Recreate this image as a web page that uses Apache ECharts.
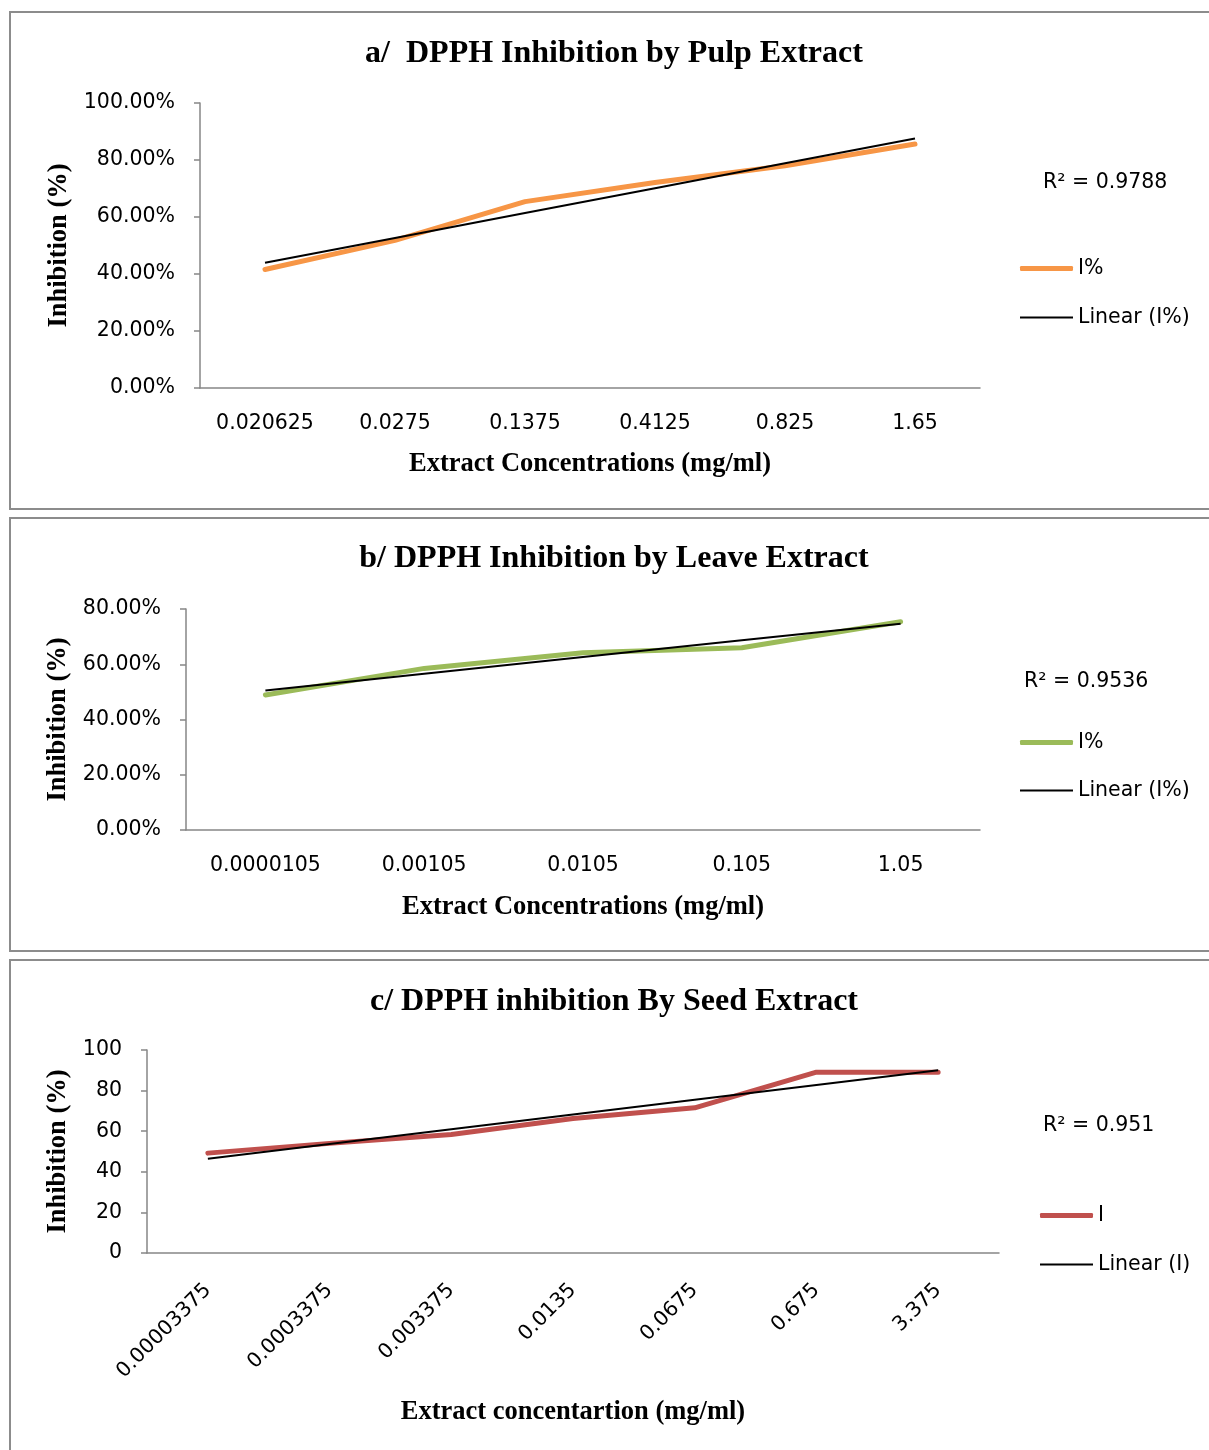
<!DOCTYPE html>
<html>
<head>
<meta charset="utf-8">
<script src="https://cdn.jsdelivr.net/npm/echarts@6/dist/echarts.min.js"></script>
<style>
  html, body { margin: 0; padding: 0; background: #fff; }
  #chart { width: 1209px; height: 1450px; }
</style>
</head>
<body>
<div id="chart"></div>
<script>
// DPPH radical-scavenging results for three extracts
const pulpConc = ['0.020625', '0.0275', '0.1375', '0.4125', '0.825', '1.65'];
const pulpInhibition = [41.6, 51.8, 65.4, 72.1, 78.0, 85.6];

const leafConc = ['0.0000105', '0.00105', '0.0105', '0.105', '1.05'];
const leafInhibition = [48.9, 58.5, 64.2, 66.0, 75.4];

const seedConc = ['0.00003375', '0.0003375', '0.003375', '0.0135', '0.0675', '0.675', '3.375'];
const seedInhibition = [49.2, 54.0, 58.4, 66.3, 71.5, 89.1, 89.1];

const rSquared = ['0.9788', '0.9536', '0.951'];
const panelTitles = [
  'a/  DPPH Inhibition by Pulp Extract',
  'b/ DPPH Inhibition by Leave Extract',
  'c/ DPPH inhibition By Seed Extract'
];
const xNames = [
  'Extract Concentrations (mg/ml)',
  'Extract Concentrations (mg/ml)',
  'Extract concentartion (mg/ml)'
];
const yName = 'Inhibition (%)';

// least-squares straight line through the points, evaluated at each category
function linearTrend(values) {
  const n = values.length;
  let sx = 0, sy = 0, sxy = 0, sxx = 0;
  values.forEach((v, i) => { const x = i + 1; sx += x; sy += v; sxy += x * v; sxx += x * x; });
  const slope = (n * sxy - sx * sy) / (n * sxx - sx * sx);
  const icpt = (sy - slope * sx) / n;
  return values.map((v, i) => +(icpt + slope * (i + 1)).toFixed(3));
}

const SANS = 'DejaVu Sans';
const SERIF = 'Liberation Serif';
const AXIS_GREY = '#868686';
const COLORS = ['#F79646', '#9BBB59', '#C0504D'];

const grids = [
  { left: 200, top: 103, width: 780, height: 285 },
  { left: 186, top: 609, width: 794, height: 221 },
  { left: 147, top: 1050, width: 852, height: 203 }
];

function pct(v) { return v.toFixed(2) + '%'; }

function xAxisFor(idx, cats, nameGap, rotate) {
  return {
    type: 'category', gridIndex: idx, data: cats, boundaryGap: true,
    axisLine: { lineStyle: { color: AXIS_GREY, width: 1.5 } },
    axisTick: { show: false },
    axisLabel: { color: '#000', fontFamily: SANS, fontSize: 20.5, margin: rotate ? 34 : 25, rotate: rotate || 0, interval: 0 },
    name: xNames[idx], nameLocation: 'middle', nameGap: nameGap,
    nameTextStyle: { fontFamily: SERIF, fontWeight: 'bold', fontSize: 26.5, color: '#000' }
  };
}

function yAxisFor(idx, max, fmt, nameGap) {
  return {
    type: 'value', gridIndex: idx, min: 0, max: max, interval: 20,
    axisLine: { show: true, lineStyle: { color: AXIS_GREY, width: 1.5 } },
    axisTick: { show: true, length: 6, lineStyle: { color: AXIS_GREY, width: 1.5 } },
    splitLine: { show: false },
    axisLabel: { color: '#000', fontFamily: SANS, fontSize: 20.5, margin: 25, formatter: fmt },
    name: yName, nameLocation: 'middle', nameGap: nameGap,
    nameTextStyle: { fontFamily: SERIF, fontWeight: 'bold', fontSize: 26.5, color: '#000' }
  };
}

function dataSeries(idx, name, values) {
  return {
    type: 'line', name: name, xAxisIndex: idx, yAxisIndex: idx, data: values,
    symbol: 'none', smooth: false, z: 2,
    lineStyle: { color: COLORS[idx], width: 5, cap: 'round', join: 'round' },
    itemStyle: { color: COLORS[idx] }
  };
}

function trendSeries(idx, name, values) {
  return {
    type: 'line', name: name, xAxisIndex: idx, yAxisIndex: idx, data: linearTrend(values),
    symbol: 'none', smooth: false, z: 3,
    lineStyle: { color: '#000', width: 2 },
    itemStyle: { color: '#000' }
  };
}

function legendPair(idx, dataName, trendName, left, top1, top2) {
  const text = { fontFamily: SANS, fontSize: 20.5, color: '#000' };
  return [
    {
      left: left, top: top1, orient: 'vertical', itemWidth: 53, itemHeight: 5, itemGap: 0, padding: 0,
      selectedMode: false, textStyle: text,
      data: [{ name: dataName, icon: 'roundRect', itemStyle: { color: COLORS[idx] } }]
    },
    {
      left: left, top: top2, orient: 'vertical', itemWidth: 53, itemHeight: 2, itemGap: 0, padding: 0,
      selectedMode: false, textStyle: text,
      data: [{ name: trendName, icon: 'rect', itemStyle: { color: '#000' } }]
    }
  ];
}

function panelFrame(y, h) {
  return {
    type: 'rect', silent: true, z: -1,
    shape: { x: 10, y: y, width: 1230, height: h },
    style: { fill: 'none', stroke: '#8c8c8c', lineWidth: 2 }
  };
}

function r2Text(idx, x, y) {
  return {
    type: 'text', silent: true, x: x, y: y,
    style: { text: 'R² = ' + rSquared[idx], font: '20.5px "' + SANS + '"', fill: '#000', textVerticalAlign: 'middle' }
  };
}

const titleCenters = [52, 557, 1000];

const option = {
  backgroundColor: '#fff',
  animation: false,
  title: panelTitles.map((t, i) => ({
    text: t, left: 614, top: titleCenters[i] - 14, textAlign: 'center', padding: 0,
    textStyle: { fontFamily: SERIF, fontWeight: 'bold', fontSize: 32, color: '#000' }
  })),
  grid: grids,
  xAxis: [
    xAxisFor(0, pulpConc, 63),
    xAxisFor(1, leafConc, 64),
    xAxisFor(2, seedConc, 146, 45)
  ],
  yAxis: [
    yAxisFor(0, 100, pct, 127),
    yAxisFor(1, 80, pct, 113),
    yAxisFor(2, 100, v => String(v), 74)
  ],
  legend: [].concat(
    legendPair(0, 'I%', 'Linear (I%)', 1020, 258, 307),
    legendPair(1, 'I%', 'Linear (I%)', 1020, 732, 780),
    legendPair(2, 'I', 'Linear (I)', 1040, 1205, 1254)
  ),
  series: [
    dataSeries(0, 'I%', pulpInhibition),
    trendSeries(0, 'Linear (I%)', pulpInhibition),
    dataSeries(1, 'I%', leafInhibition),
    trendSeries(1, 'Linear (I%)', leafInhibition),
    dataSeries(2, 'I', seedInhibition),
    trendSeries(2, 'Linear (I)', seedInhibition)
  ],
  graphic: [
    panelFrame(12, 497),
    panelFrame(518, 433),
    panelFrame(960, 520),
    r2Text(0, 1043, 183),
    r2Text(1, 1024, 682),
    r2Text(2, 1043, 1126)
  ]
};

const chart = echarts.init(document.getElementById('chart'), null, { renderer: 'canvas' });
chart.setOption(option);
</script>
</body>
</html>
